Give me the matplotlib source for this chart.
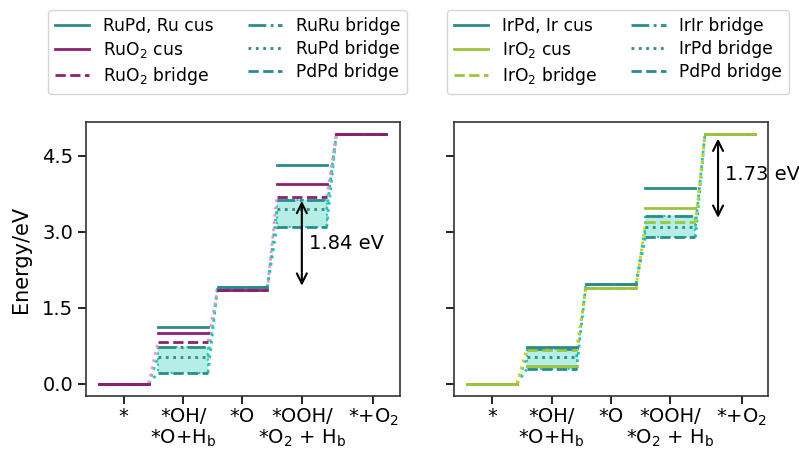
import matplotlib
matplotlib.use("Agg")
import matplotlib.pyplot as plt
from matplotlib.lines import Line2D
import numpy as np

# ---------------- data ----------------
steps = ['*', '*OH/\n*O+H$_\\mathrm{b}$', '*O', '*OOH/\n*O$_2$ + H$_\\mathrm{b}$', '*+O$_2$']
tick_pos = [0, 1, 2, 3, 4.2]

# Ru panel
ru_RuPd_Ru_cus = [0.0, 1.11, 1.90, 4.32, 4.92]
ru_RuO2_cus    = [0.0, 0.99, 1.85, 3.94, 4.92]
ru_RuO2_bridge = [0.0, 0.83, 1.85, 3.69, 4.92]
ru_RuRu_bridge = [0.0, 0.72, 1.90, 3.63, 4.92]
ru_RuPd_bridge = [0.0, 0.53, 1.90, 3.44, 4.92]
ru_PdPd_bridge = [0.0, 0.21, 1.90, 3.10, 4.92]

# Ir panel
ir_IrPd_Ir_cus = [0.0, 0.72, 1.97, 3.87, 4.92]
ir_IrO2_cus    = [0.0, 0.35, 1.89, 3.47, 4.92]
ir_IrO2_bridge = [0.0, 0.67, 1.89, 3.19, 4.92]
ir_IrIr_bridge = [0.0, 0.69, 1.97, 3.31, 4.92]
ir_IrPd_bridge = [0.0, 0.52, 1.97, 3.10, 4.92]
ir_PdPd_bridge = [0.0, 0.28, 1.97, 2.89, 4.92]

ru_gap = 1.84
ir_gap = 1.73

# ---------------- style ----------------
TEAL = '#2a8c8c'
PURPLE = '#8e1f6f'
GREEN = '#9cc43c'
PINK = '#ff8fc4'
TURQ = '#1ec8b4'
GOLD = '#e6c800'
FILL = (0.25, 0.82, 0.72, 0.38)
HW = 0.42
LW = 2.0

plt.rcParams['font.family'] = ['DejaVu Sans']

fig = plt.figure(figsize=(7.99, 4.5), dpi=100)
ax1 = fig.add_axes([86/799, 54/450, 313.5/799, 274/450])
ax2 = fig.add_axes([454.3/799, 54/450, 314/799, 274/450])


def levels(ax, vals, color, ls, z=3):
    for i, e in enumerate(vals):
        ax.plot([i - HW, i + HW], [e, e], color=color, ls=ls, lw=LW, zorder=z)


def connectors(ax, vals, color, z=2):
    for i in range(len(vals) - 1):
        ax.plot([i + HW, i + 1 - HW], [vals[i], vals[i + 1]], color=color,
                ls=':', lw=LW, zorder=z)


def boxes(ax, lower, upper):
    for i, (lo, hi) in enumerate(zip(lower, upper)):
        if abs(hi - lo) > 1e-6:
            ax.fill_between([i - HW, i + HW], lo, hi, facecolor=FILL,
                            edgecolor=TURQ, linestyle=':', lw=1.5, zorder=1)


# ----- Ru panel -----
boxes(ax1, ru_PdPd_bridge, ru_RuRu_bridge)
connectors(ax1, ru_PdPd_bridge, TURQ)
connectors(ax1, ru_RuPd_bridge, TURQ)
connectors(ax1, ru_RuO2_bridge, PINK)
levels(ax1, ru_RuPd_Ru_cus, TEAL, '-')
levels(ax1, ru_RuRu_bridge, TEAL, '-.')
levels(ax1, ru_RuPd_bridge, TEAL, ':')
levels(ax1, ru_PdPd_bridge, TEAL, '--')
levels(ax1, ru_RuO2_bridge, PURPLE, '--', z=4)
levels(ax1, ru_RuO2_cus, PURPLE, '-', z=4)

# ----- Ir panel -----
boxes(ax2, ir_PdPd_bridge, ir_IrIr_bridge)
connectors(ax2, ir_PdPd_bridge, TURQ)
connectors(ax2, ir_IrPd_bridge, TURQ)
connectors(ax2, ir_IrO2_bridge, GOLD)
levels(ax2, ir_IrPd_Ir_cus, TEAL, '-')
levels(ax2, ir_IrIr_bridge, TEAL, '-.')
levels(ax2, ir_IrPd_bridge, TEAL, ':')
levels(ax2, ir_PdPd_bridge, TEAL, '--')
levels(ax2, ir_IrO2_bridge, GREEN, '--', z=4)
levels(ax2, ir_IrO2_cus, GREEN, '-', z=4)

# arrows
arrow_kw = dict(arrowstyle='<->', color='black', lw=1.5, shrinkA=3, shrinkB=3,
                mutation_scale=18)
ax1.annotate('', xy=(3, ru_RuO2_bridge[3]), xytext=(3, ru_RuO2_bridge[3] - ru_gap),
             arrowprops=arrow_kw, zorder=6)
ax1.text(3.12, ru_RuO2_bridge[3] - ru_gap / 2, f'{ru_gap:.2f} eV', fontsize=14,
         va='center', ha='left')
ax2.annotate('', xy=(3.8, ir_IrO2_bridge[4]), xytext=(3.8, ir_IrO2_bridge[4] - ir_gap),
             arrowprops=arrow_kw, zorder=6)
ax2.text(3.92, ir_IrO2_bridge[4] - ir_gap * 0.46, f'{ir_gap:.2f} eV', fontsize=14,
         va='center', ha='left', zorder=7)

for ax in (ax1, ax2):
    ax.set_xlim(-0.635, 4.645)
    ax.set_ylim(-0.246, 5.166)
    ax.set_xticks(tick_pos)
    ax.set_xticklabels(steps, fontsize=14, linespacing=1.1)
    ax.set_yticks([0.0, 1.5, 3.0, 4.5])
    ax.tick_params(labelsize=14, length=5.5, width=1.2)
    ax.tick_params(axis='x', pad=2.5)
    for s in ax.spines.values():
        s.set_linewidth(1.2)
        s.set_color('#333333')
ax2.set_yticklabels([])
ax1.set_ylabel('Energy/eV', fontsize=15, labelpad=8)

# legends
def handles(names, colors, styles):
    return [Line2D([], [], color=c, ls=s, lw=LW, label=n) for n, c, s in zip(names, colors, styles)]

ru_names = ['RuPd, Ru cus', 'RuO$_2$ cus', 'RuO$_2$ bridge', 'RuRu bridge', 'RuPd bridge', 'PdPd bridge']
ir_names = ['IrPd, Ir cus', 'IrO$_2$ cus', 'IrO$_2$ bridge', 'IrIr bridge', 'IrPd bridge', 'PdPd bridge']
styles = ['-', '-', '--', '-.', ':', '--']
ru_cols = [TEAL, PURPLE, PURPLE, TEAL, TEAL, TEAL]
ir_cols = [TEAL, GREEN, GREEN, TEAL, TEAL, TEAL]

leg_kw = dict(ncol=2, fontsize=12.3, labelspacing=0.3, handlelength=2.0,
              loc='lower center', bbox_transform=fig.transFigure, borderaxespad=0)
ax1.legend(handles=handles(ru_names, ru_cols, styles),
           bbox_to_anchor=(227.5/799, 1 - 94/450), **leg_kw)
ax2.legend(handles=handles(ir_names, ir_cols, styles),
           bbox_to_anchor=(618/799, 1 - 94/450), **leg_kw)

fig.savefig('out.png', dpi=100)
